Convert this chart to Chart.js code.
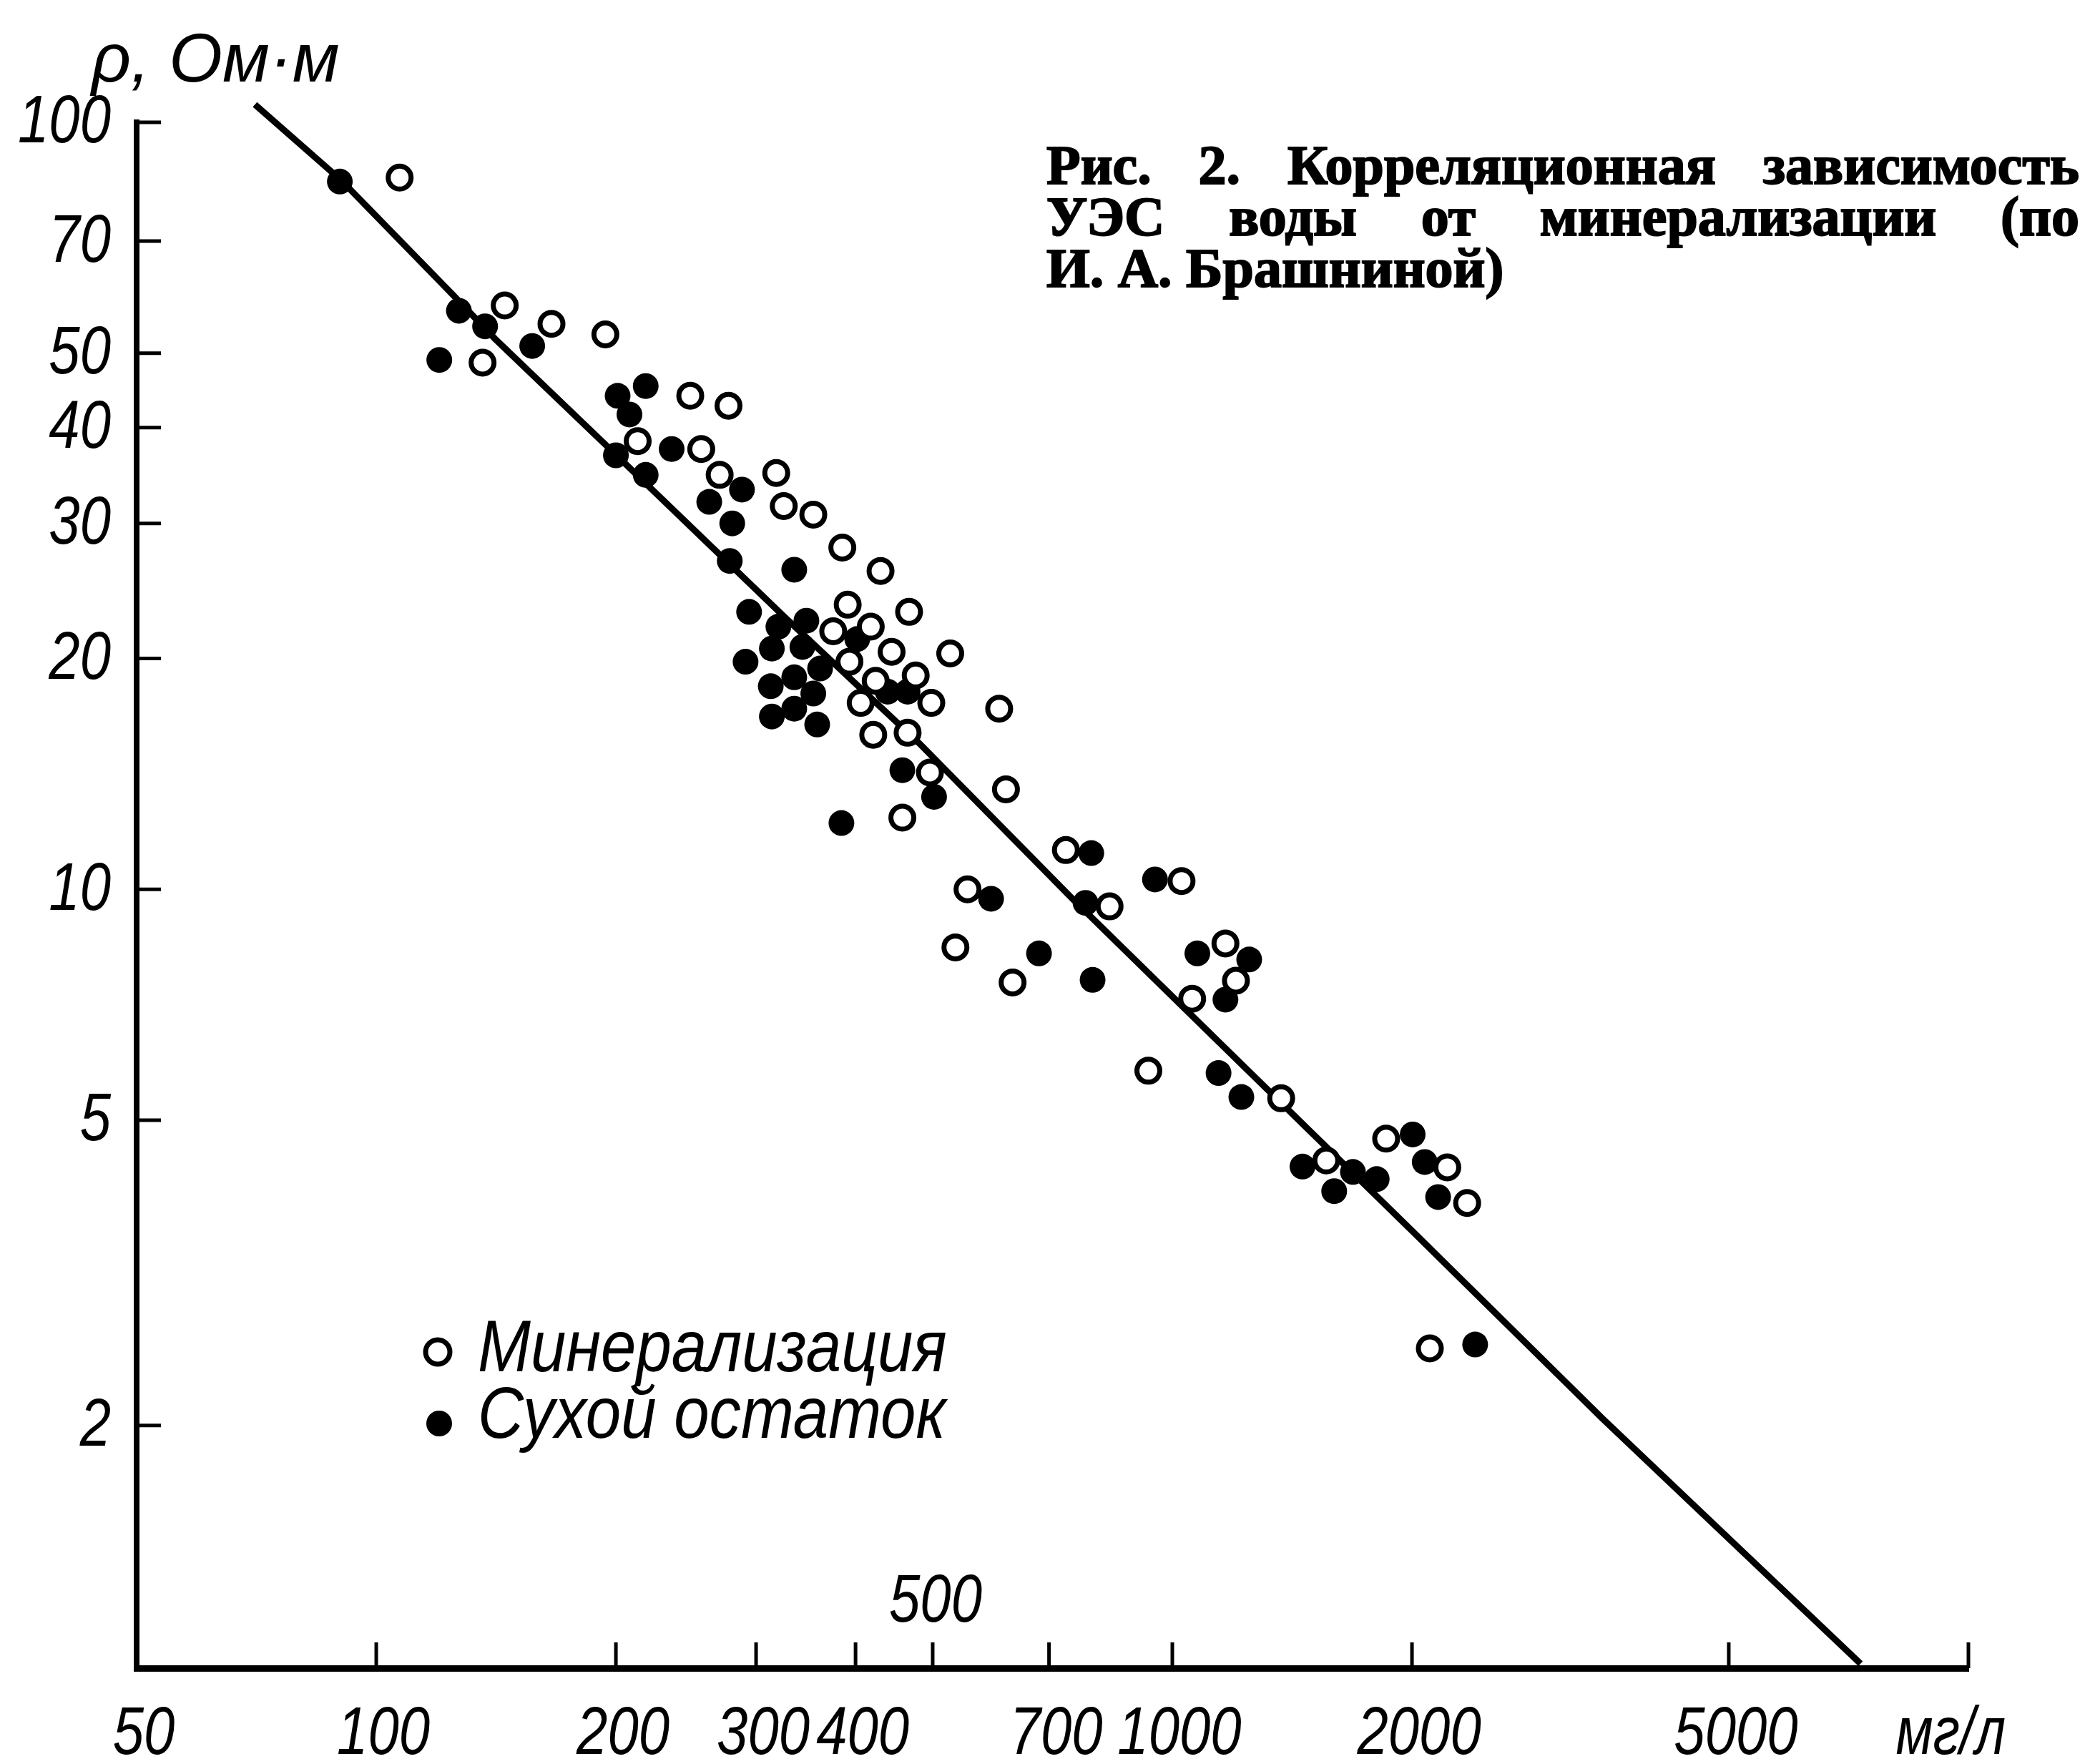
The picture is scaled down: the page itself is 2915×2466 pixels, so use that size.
<!DOCTYPE html>
<html>
<head>
<meta charset="utf-8">
<script src="https://cdn.jsdelivr.net/npm/chart.js@4.4.1/dist/chart.umd.min.js"></script>
<style>
  html, body { margin: 0; padding: 0; background: #fff; }
  canvas { display: block; }
</style>
</head>
<body>
<canvas id="chart" width="2915" height="2466"></canvas>
<script>
// Рис. 2 · УЭС воды (Ом·м) против минерализации (мг/л)

// открытые кружки — минерализация
const MINER_X = [107, 145, 166, 194, 136, 248, 277, 213, 256, 270, 318, 325, 354, 385, 430, 391, 467, 375, 418, 444,
  393, 526, 424, 476, 406, 498, 421, 465, 606, 496, 618, 458, 735, 553, 834, 1027, 534, 630, 1166, 1202,
  1059, 933, 1370, 1561, 1856, 2215, 2346, 2106];
const MINER_Y = [84.7, 57.7, 54.6, 52.9, 48.6, 44.0, 42.7, 38.4, 37.5, 34.7, 34.9, 31.6, 30.8, 27.9, 26.0, 23.5, 23.0, 21.7, 22.0, 20.4,
  19.8, 20.3, 18.7, 19.0, 17.5, 17.5, 15.9, 16.0, 17.2, 14.2, 13.5, 12.4, 11.25, 10.0, 9.5, 10.25, 8.4, 7.56, 8.5, 7.6,
  7.2, 5.8, 5.34, 4.43, 4.73, 4.34, 3.9, 2.52];

// залитые точки — сухой остаток
const DRY_X = [90, 127, 120, 137, 157, 201, 218, 208, 200, 235, 218, 262, 288, 280, 278, 335, 294, 320, 347, 343,
  314, 291, 313, 335, 361, 354, 314, 335, 358, 402, 439, 465, 458, 502, 384, 592, 680, 791, 778, 794,
  951, 1075, 1249, 1166, 1143, 1221, 1457, 1597, 1686, 1806, 2004, 2075, 2157, 2401];
const DRY_Y = [83.7, 56.8, 49.0, 54.2, 51.1, 44.0, 45.3, 41.6, 36.8, 37.5, 34.7, 32.0, 33.2, 30.0, 26.8, 26.1, 23.0, 22.0, 22.4, 20.7,
  20.6, 19.8, 18.4, 18.9, 19.4, 18.0, 16.8, 17.2, 16.4, 21.2, 18.1, 18.1, 14.3, 13.2, 12.2, 9.72, 8.25, 11.15, 9.6, 7.62,
  10.3, 8.25, 8.1, 7.18, 5.76, 5.36, 4.35, 4.04, 4.28, 4.19, 4.79, 4.41, 3.97, 2.55];

// линия корреляции
const FIT_X = [70.4, 90.4, 124, 141, 194, 325, 481, 749, 1071, 2004, 3473, 7320];
const FIT_Y = [105.5, 84.0, 60.0, 52.2, 38.0, 22.7, 15.5, 9.72, 6.76, 3.58, 2.04, 0.978];

const X_TICKS = [50, 100, 200, 300, 400, 500, 700, 1000, 2000, 5000, 10000];
const X_LABELS = ["50", "100", "200", "300", "400", "500", "700", "1000", "2000", "5000", "мг/л"];
const Y_TICKS = [2, 5, 10, 20, 30, 40, 50, 70, 100];
const Y_LABELS = ["2", "5", "10", "20", "30", "40", "50", "70", "100"];

const Y_TITLE = "ρ, Ом·м";
const TITLE_LINES = [
  "Рис. 2. Корреляционная зависимость",
  "УЭС воды от минерализации (по",
  "И. А. Брашниной)",
];

const SANS = '"Liberation Sans Narrow", "Liberation Sans", "DejaVu Sans", sans-serif';
const SERIF = '"Liberation Serif", "DejaVu Serif", serif';
const DIGIT_SX = 0.82;

const pts = (xs, ys) => xs.map((x, i) => ({ x, y: ys[i] }));

// сжатый по ширине текст, как чертёжный шрифт
function narrowText(ctx, text, x, y, align, sx) {
  ctx.save();
  ctx.translate(x, y);
  ctx.scale(sx, 1);
  ctx.textAlign = align;
  ctx.fillText(text, 0, 0);
  ctx.restore();
}

function justify(ctx, text, x0, x1, y, last) {
  const words = text.split(" ");
  const widths = words.map((w) => ctx.measureText(w).width);
  const total = widths.reduce((s, w) => s + w, 0);
  const gap = last ? ctx.measureText(" ").width : (x1 - x0 - total) / (words.length - 1);
  let x = x0;
  words.forEach((w, i) => {
    ctx.fillText(w, x, y);
    ctx.strokeText(w, x, y);
    x += widths[i] + gap;
  });
}

const decor = {
  id: "decor",
  afterDraw(chart) {
    const { ctx, chartArea: a, scales } = chart;
    const x = scales.x, y = scales.y;
    ctx.save();
    ctx.strokeStyle = "#000";
    ctx.fillStyle = "#000";

    // засечки внутрь поля
    ctx.lineWidth = 5;
    ctx.beginPath();
    Y_TICKS.forEach((v) => {
      const py = y.getPixelForValue(v);
      ctx.moveTo(a.left, py);
      ctx.lineTo(a.left + 34, py);
    });
    X_TICKS.slice(1).forEach((v) => {
      const px = x.getPixelForValue(v);
      ctx.moveTo(px, a.bottom);
      ctx.lineTo(px, a.bottom - 36);
    });
    ctx.stroke();

    // подписи делений
    ctx.font = `italic 95px ${SANS}`;
    ctx.textBaseline = "middle";
    Y_TICKS.forEach((v, i) => {
      narrowText(ctx, Y_LABELS[i], a.left - 36, y.getPixelForValue(v) + 2, "right", DIGIT_SX);
    });
    ctx.textBaseline = "alphabetic";
    X_TICKS.forEach((v, i) => {
      const px = x.getPixelForValue(v);
      if (v === 500) {
        narrowText(ctx, X_LABELS[i], px + 4, a.bottom - 65, "center", DIGIT_SX);
      } else if (i === X_TICKS.length - 1) {
        narrowText(ctx, X_LABELS[i], px + 52, a.bottom + 120, "right", 0.8);
      } else {
        narrowText(ctx, X_LABELS[i], px + 10, a.bottom + 120, "center", DIGIT_SX);
      }
    });

    // единицы оси Y
    ctx.font = `italic 96px ${SANS}`;
    narrowText(ctx, Y_TITLE, 128, 114, "left", 1);

    // подпись рисунка
    ctx.font = `bold 78px ${SERIF}`;
    ctx.lineWidth = 2;
    ctx.textAlign = "left";
    TITLE_LINES.forEach((line, i) => {
      justify(ctx, line, 1463, 2907, 257 + i * 72, i === TITLE_LINES.length - 1);
    });

    // легенда
    const ds = chart.data.datasets;
    ctx.font = `italic 102px ${SANS}`;
    ctx.beginPath();
    ctx.arc(612, 1890, 17, 0, Math.PI * 2);
    ctx.fillStyle = ds[0].pointBackgroundColor;
    ctx.fill();
    ctx.lineWidth = ds[0].pointBorderWidth;
    ctx.stroke();
    ctx.fillStyle = "#000";
    narrowText(ctx, ds[0].label, 668, 1917, "left", 0.87);
    ctx.beginPath();
    ctx.arc(614, 1990, ds[1].pointRadius, 0, Math.PI * 2);
    ctx.fillStyle = ds[1].pointBackgroundColor;
    ctx.fill();
    ctx.fillStyle = "#000";
    narrowText(ctx, ds[1].label, 668, 2010, "left", 0.87);

    ctx.restore();
  },
};

new Chart(document.getElementById("chart"), {
  type: "scatter",
  data: {
    datasets: [
      {
        label: "Минерализация",
        data: pts(MINER_X, MINER_Y),
        pointRadius: 16,
        pointBorderWidth: 7,
        pointBackgroundColor: "#fff",
        pointBorderColor: "#000",
        order: 1,
      },
      {
        label: "Сухой остаток",
        data: pts(DRY_X, DRY_Y),
        pointRadius: 18,
        pointBorderWidth: 0,
        pointBackgroundColor: "#000",
        pointBorderColor: "#000",
        order: 2,
      },
      {
        label: "fit",
        data: pts(FIT_X, FIT_Y),
        showLine: true,
        borderColor: "#000",
        borderWidth: 9,
        pointRadius: 0,
        fill: false,
        tension: 0,
        clip: false,
        order: 3,
      },
    ],
  },
  options: {
    responsive: false,
    devicePixelRatio: 1,
    animation: false,
    layout: { padding: { top: 171, right: 163, left: 0, bottom: 0 } },
    plugins: { legend: { display: false }, tooltip: { enabled: false }, title: { display: false } },
    scales: {
      x: {
        type: "logarithmic",
        bounds: "data",
        min: 50,
        max: 10000,
        afterBuildTicks: (s) => { s.ticks = X_TICKS.map((v) => ({ value: v })); },
        afterFit: (s) => { s.height = 134; },
        grid: { display: false, drawTicks: false },
        border: { display: true, color: "#000", width: 9 },
        ticks: { display: false, autoSkip: false },
      },
      y: {
        type: "logarithmic",
        bounds: "data",
        min: 0.965,
        max: 100,
        afterBuildTicks: (s) => { s.ticks = Y_TICKS.map((v) => ({ value: v })); },
        afterFit: (s) => { s.width = 191; },
        grid: { display: false, drawTicks: false },
        border: { display: true, color: "#000", width: 8 },
        ticks: { display: false, autoSkip: false },
      },
    },
  },
  plugins: [decor],
});
</script>
</body>
</html>
